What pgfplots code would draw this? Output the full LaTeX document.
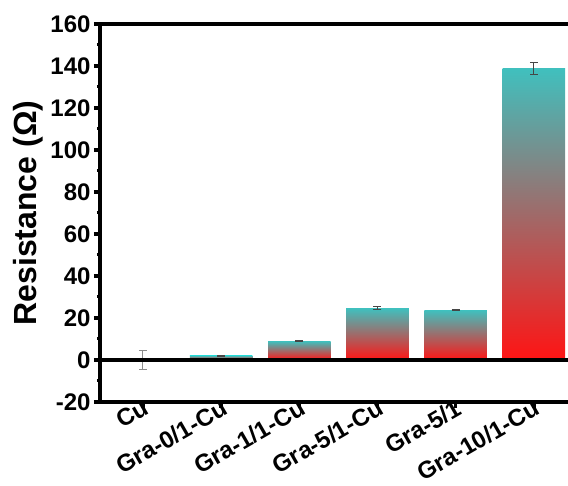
\documentclass[border=0pt]{standalone}
\usepackage{pgfplots}
\pgfplotsset{compat=1.18}
\usepackage{fontspec}
\setmainfont{Liberation Sans}
\definecolor{barteal}{RGB}{64,192,190}
\definecolor{barmid}{RGB}{160,145,145}
\definecolor{barred}{RGB}{255,20,20}
\definecolor{errdark}{RGB}{70,70,70}
\definecolor{errlight}{RGB}{140,140,140}
\pgfplotsset{gradbar/.style={ybar, bar width=0.8, bar shift=0pt, draw=none,
  top color=barteal, middle color=barmid, bottom color=barred}}
\begin{document}
\begin{tikzpicture}
\begin{axis}[
  scale only axis, width=469pt, height=378pt,
  xmin=-0.55, xmax=5.45, ymin=-20, ymax=160,
  axis x line=box, axis y line=left,
  axis line style={-, line width=4pt},
  xtick={0,1,2,3,4,5},
  xticklabels={Cu, Gra-0/1-Cu, Gra-1/1-Cu, Gra-5/1-Cu, Gra-5/1, Gra-10/1-Cu},
  xtick pos=bottom,
  ytick={-20,0,20,40,60,80,100,120,140,160},
  minor y tick num=1,
  tick align=outside,
  major tick length=6pt, minor tick length=3pt,
  every tick/.style={black, line width=3.5pt},
  minor tick style={line width=3pt},
  /pgf/number format/assume math mode=true,
  ticklabel style={font=\fontsize{24}{28}\selectfont\bfseries},
  xticklabel style={rotate=30, anchor=north east, inner sep=0pt, xshift=4pt, yshift=9pt},
  ylabel={Resistance (Ω)},
  ylabel style={font=\fontsize{32}{36}\selectfont\bfseries},
  clip=false,
]
\coordinate (O) at (rel axis cs:0,0);
\addplot[gradbar] coordinates {(1,2.05)};
\addplot[gradbar] coordinates {(2,9.0)};
\addplot[gradbar] coordinates {(3,24.6)};
\addplot[gradbar] coordinates {(4,23.7)};
\addplot[gradbar] coordinates {(5,138.9)};
\addplot[draw=none, mark=none, forget plot,
  error bars/.cd, y dir=both, y explicit,
  error bar style={draw=errdark, solid, line width=1pt},
  error mark options={rotate=90, mark size=4pt, line width=1pt, draw=errdark}]
  coordinates {(1,2.05)+-(0,0.15) (2,9.0)+-(0,0.3) (3,24.6)+-(0,0.7) (4,23.7)+-(0,0.3) (5,138.9)+-(0,3.0)};
\addplot[draw=none, mark=none, forget plot,
  error bars/.cd, y dir=both, y explicit,
  error bar style={draw=errlight, solid, line width=1pt},
  error mark options={rotate=90, mark size=4pt, line width=1pt, draw=errlight}]
  coordinates {(0,0)+-(0,4.3)};
\draw[line width=4pt] (axis cs:-0.55,0) -- (axis cs:5.45,0);
\end{axis}
\pgfresetboundingbox
\path[use as bounding box] (O) ++(-100pt,-84pt) rectangle ++(568pt,486pt);
\end{tikzpicture}
\end{document}
